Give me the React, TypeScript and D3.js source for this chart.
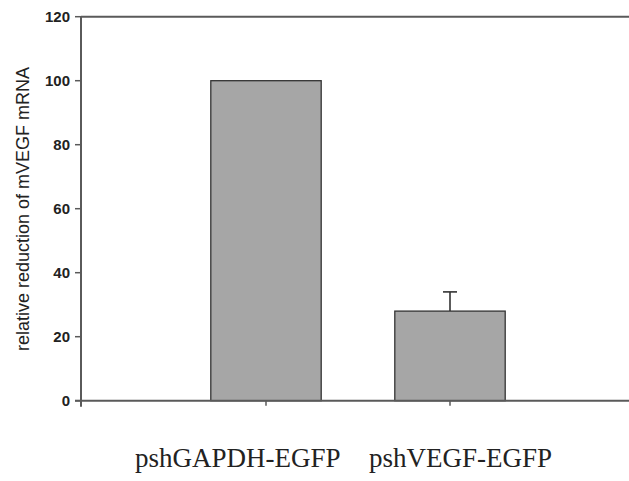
import React from "react";
import * as d3 from "d3";

const categories = ["pshGAPDH-EGFP", "pshVEGF-EGFP"];
const values = [100, 28];
const errors = [0, 6];
const yTicks = [0, 20, 40, 60, 80, 100, 120];
const yLabel = "relative reduction of mVEGF mRNA";

const W = 629;
const H = 481;
const axisX = 81;
const plotTop = 16.7;
const plotBottom = 400.7;
const plotRight = 629;

export default function App() {
  const y = d3.scaleLinear().domain([0, 120]).range([plotBottom, plotTop]);
  const x = d3
    .scaleBand<string>()
    .domain(categories)
    .range([174, 542])
    .paddingInner(0.4)
    .paddingOuter(0.2);
  const bw = x.bandwidth();
  const labelX = [135, 369];
  const axisColor = "#5a5a5a";
  const textColor = "#222";

  return (
    <svg
      width={W}
      height={H}
      style={{ position: "absolute", left: 0, top: 0, background: "#fff" }}
    >
      {categories.map((c, i) => (
        <rect
          key={c}
          x={x(c)!}
          y={y(values[i])}
          width={bw}
          height={y(0) - y(values[i])}
          fill="#a6a6a6"
          stroke="#333"
          strokeWidth={1.3}
        />
      ))}
      {categories.map((c, i) =>
        errors[i] > 0 ? (
          <g key={"e" + c} stroke="#333" strokeWidth={1.6}>
            <line
              x1={x(c)! + bw / 2}
              x2={x(c)! + bw / 2}
              y1={y(values[i])}
              y2={y(values[i] + errors[i])}
            />
            <line
              x1={x(c)! + bw / 2 - 7}
              x2={x(c)! + bw / 2 + 7}
              y1={y(values[i] + errors[i])}
              y2={y(values[i] + errors[i])}
            />
          </g>
        ) : null
      )}
      <line x1={axisX} x2={plotRight} y1={y(120)} y2={y(120)} stroke={axisColor} strokeWidth={2} />
      <line x1={75} x2={plotRight} y1={y(0)} y2={y(0)} stroke={axisColor} strokeWidth={2} />
      {categories.map((c) => (
        <line
          key={"t" + c}
          x1={x(c)! + bw / 2}
          x2={x(c)! + bw / 2}
          y1={y(0)}
          y2={y(0) + 5}
          stroke={axisColor}
          strokeWidth={1.5}
        />
      ))}
      <line x1={axisX} x2={axisX} y1={y(120)} y2={y(0) + 6} stroke={axisColor} strokeWidth={2} />
      {yTicks.map((t) => (
        <g key={"y" + t}>
          <line x1={75} x2={axisX} y1={y(t)} y2={y(t)} stroke={axisColor} strokeWidth={1.5} />
          <text
            x={70}
            y={y(t)}
            dy="0.35em"
            textAnchor="end"
            fontFamily="Liberation Sans, Arial, sans-serif"
            fontSize={15}
            fontWeight="bold"
            fill={textColor}
          >
            {t}
          </text>
        </g>
      ))}
      <text
        transform={`translate(29, 209) rotate(-90)`}
        textAnchor="middle"
        fontFamily="Liberation Sans, Arial, sans-serif"
        fontSize={18}
        fill={textColor}
      >
        {yLabel}
      </text>
      {categories.map((c, i) => (
        <text
          key={"l" + c}
          x={labelX[i]}
          y={467}
          fontFamily="Liberation Serif, Times New Roman, serif"
          fontSize={27}
          fill={textColor}
        >
          {c}
        </text>
      ))}
    </svg>
  );
}
